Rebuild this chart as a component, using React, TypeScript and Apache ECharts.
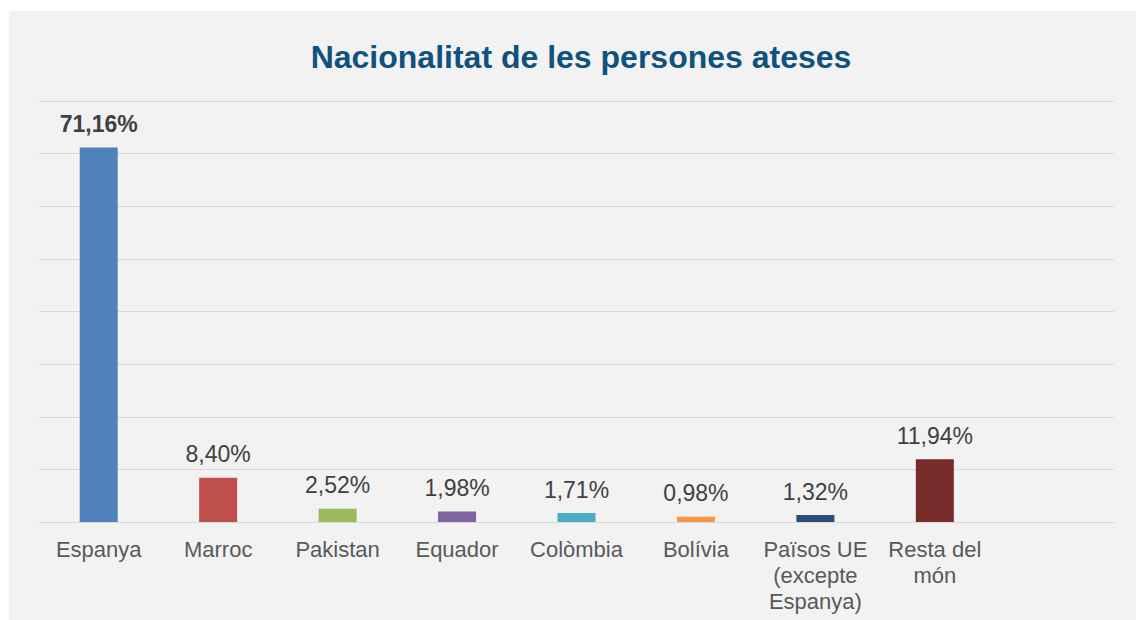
import React, { useEffect, useRef } from "react";
import * as echarts from "echarts";

const categories = [
  "Espanya",
  "Marroc",
  "Pakistan",
  "Equador",
  "Colòmbia",
  "Bolívia",
  "Països UE\n(excepte\nEspanya)",
  "Resta del\nmón",
  "",
];
const values: (number | string)[] = [71.16, 8.4, 2.52, 1.98, 1.71, 0.98, 1.32, 11.94, "-"];
const colors = ["#4f81bd", "#c0504d", "#9bbb59", "#8064a2", "#4bacc6", "#f79646", "#2c4d75", "#772c2a", "#777777"];
const titleText = "Nacionalitat de les persones ateses";

const fmt = (v: number) => v.toFixed(2).replace(".", ",") + "%";

export default function App() {
  const ref = useRef<HTMLDivElement>(null);
  useEffect(() => {
    if (!ref.current) return;
    const chart = echarts.init(ref.current, undefined, { renderer: "svg" });
    const font = "Liberation Sans, Arial, sans-serif";
    chart.setOption({
      animation: false,
      backgroundColor: "#f2f2f2",
      title: {
        text: titleText,
        left: 567,
        top: 25,
        textAlign: "center",
        textStyle: { fontFamily: font, fontSize: 32, fontWeight: "bold", color: "#10527d" },
      },
      grid: { left: 30, right: 22, top: 90, bottom: 98, containLabel: false },
      xAxis: {
        type: "category",
        data: categories,
        axisLine: { show: true, lineStyle: { color: "#d9d9d9", width: 1 } },
        axisTick: { show: false },
        axisLabel: {
          interval: 0,
          fontFamily: font,
          fontSize: 22,
          color: "#595959",
          lineHeight: 26,
          margin: 14,
        },
      },
      yAxis: {
        type: "value",
        min: 0,
        max: 80,
        interval: 10,
        axisLabel: { show: false },
        axisLine: { show: false },
        axisTick: { show: false },
        splitLine: { lineStyle: { color: "#d9d9d9", width: 1 } },
      },
      series: [
        {
          type: "bar",
          barWidth: 38,
          data: values.map((v, i) => ({
            value: v,
            itemStyle: { color: colors[i] },
            label: i === 0 ? { fontWeight: "bold" } : undefined,
          })),
          label: {
            show: true,
            position: "top",
            distance: 12,
            fontFamily: font,
            fontSize: 23,
            color: "#404040",
            formatter: (p: any) => fmt(Number(p.value)),
          },
        },
      ],
    });
    return () => chart.dispose();
  }, []);
  return (
    <div style={{ position: "fixed", left: 0, top: 0, width: 1136, height: 620, background: "#ffffff" }}>
      <div ref={ref} style={{ position: "absolute", left: 9, top: 11, width: 1127, height: 609 }} />
    </div>
  );
}
